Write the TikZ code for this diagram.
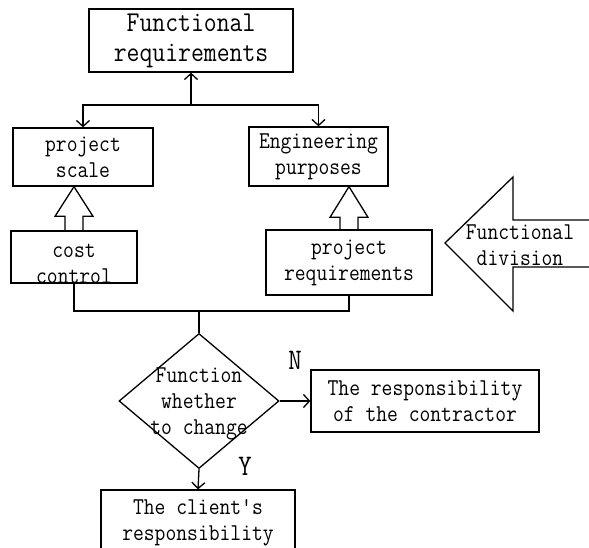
\documentclass[tikz,border=0pt]{standalone}
\usepackage{graphicx}
\usetikzlibrary{arrows.meta,shapes.geometric,calc}
\newcommand{\vs}[1]{\scalebox{1}[1.15]{#1}}
\begin{document}
\begin{tikzpicture}[x=1pt,y=-1pt,
  line width=1.3pt,
  box/.style={draw, rectangle, inner sep=0pt, align=center},
  txt/.style={font=\ttfamily\fontsize{21}{26}\selectfont, align=center, inner sep=0pt},
  bigtxt/.style={font=\ttfamily\fontsize{25}{30}\selectfont, align=center, inner sep=0pt},
  arr/.style={-{Straight Barb[length=6pt,width=13pt]}},
  hollow/.style={draw, line join=miter}]
\clip (0,0) rectangle (589,548);
\fill[white] (0,0) rectangle (589,548);

% boxes
\node[box, bigtxt, minimum width=204pt, minimum height=63pt] (fr) at (191,40.5) {\vs{Functional}\\\vs{requirements}};
\node[box, txt, minimum width=140pt, minimum height=58pt] (ps) at (83,157) {\vs{project}\\\vs{scale}};
\node[box, txt, minimum width=139pt, minimum height=59pt] (ep) at (318.5,156.5) {\vs{Engineering}\\\vs{purposes}};
\node[box, minimum width=126pt, minimum height=52pt] (cc) at (74,257) {};
\node[txt] (cct) at (74,264) {\vs{cost}\\\vs{control}};
\node[box, txt, minimum width=166pt, minimum height=65pt] (pr) at (349,262.5) {\vs{project}\\\vs{requirements}};
\node[draw, diamond, inner sep=0pt, minimum width=160pt, minimum height=135pt] (dia) at (199,401) {};
\node[txt] (diat) at (199,404) {\vs{Function}\\\vs{whether}\\\vs{to change}};
\node[box, txt, minimum width=228pt, minimum height=62pt] (con) at (425,401) {\vs{The responsibility}\\\vs{of the contractor}};
\node[box, minimum width=194pt, minimum height=80pt] (cl) at (198,530) {};
\node[txt] (clt) at (198,523) {\vs{The client's}\\\vs{responsibility}};

% big left arrow
\draw[line join=miter] (445,243) -- (513,177) -- (513,220) -- (600,220) -- (600,267) -- (513,267) -- (513,311) -- cycle;
\node[txt] (div) at (520,245) {\vs{Functional}\\\vs{division}};

% labels
\node[font=\ttfamily\fontsize{26}{30}\selectfont, inner sep=0pt] (N) at (295,360) {\vs{N}};
\node[font=\ttfamily\fontsize{26}{30}\selectfont, inner sep=0pt] (Y) at (245,466) {\vs{Y}};

% connectors
\coordinate (t) at (191,105);
\coordinate (j) at (199,311);
\draw[arr] (t) -- (fr.south);
\draw[arr] (t) -| (ps.north);
\draw[arr] (t) -| (ep.north);
\draw (cc.south) |- (j) -| (pr.south);
\draw (j) -- (dia.north);
\draw[arr] (dia.east) -- (con.west);
\draw[arr] (dia.south) -- (cl.north);

% hollow arrows
\draw[hollow] ($(cc.north)+(-9,0)$) -- ++(0,-14) -- ++(-10,0) -- (cc.north |- ps.south)
  -- ($(cc.north)+(19,-14)$) -- ++(-10,0) -- ($(cc.north)+(9,0)$);
\draw[hollow] ($(pr.north)+(-9,0)$) -- ++(0,-12) -- ++(-10,0) -- (pr.north |- ep.south)
  -- ($(pr.north)+(19,-12)$) -- ++(-10,0) -- ($(pr.north)+(9,0)$);
\end{tikzpicture}
\end{document}
